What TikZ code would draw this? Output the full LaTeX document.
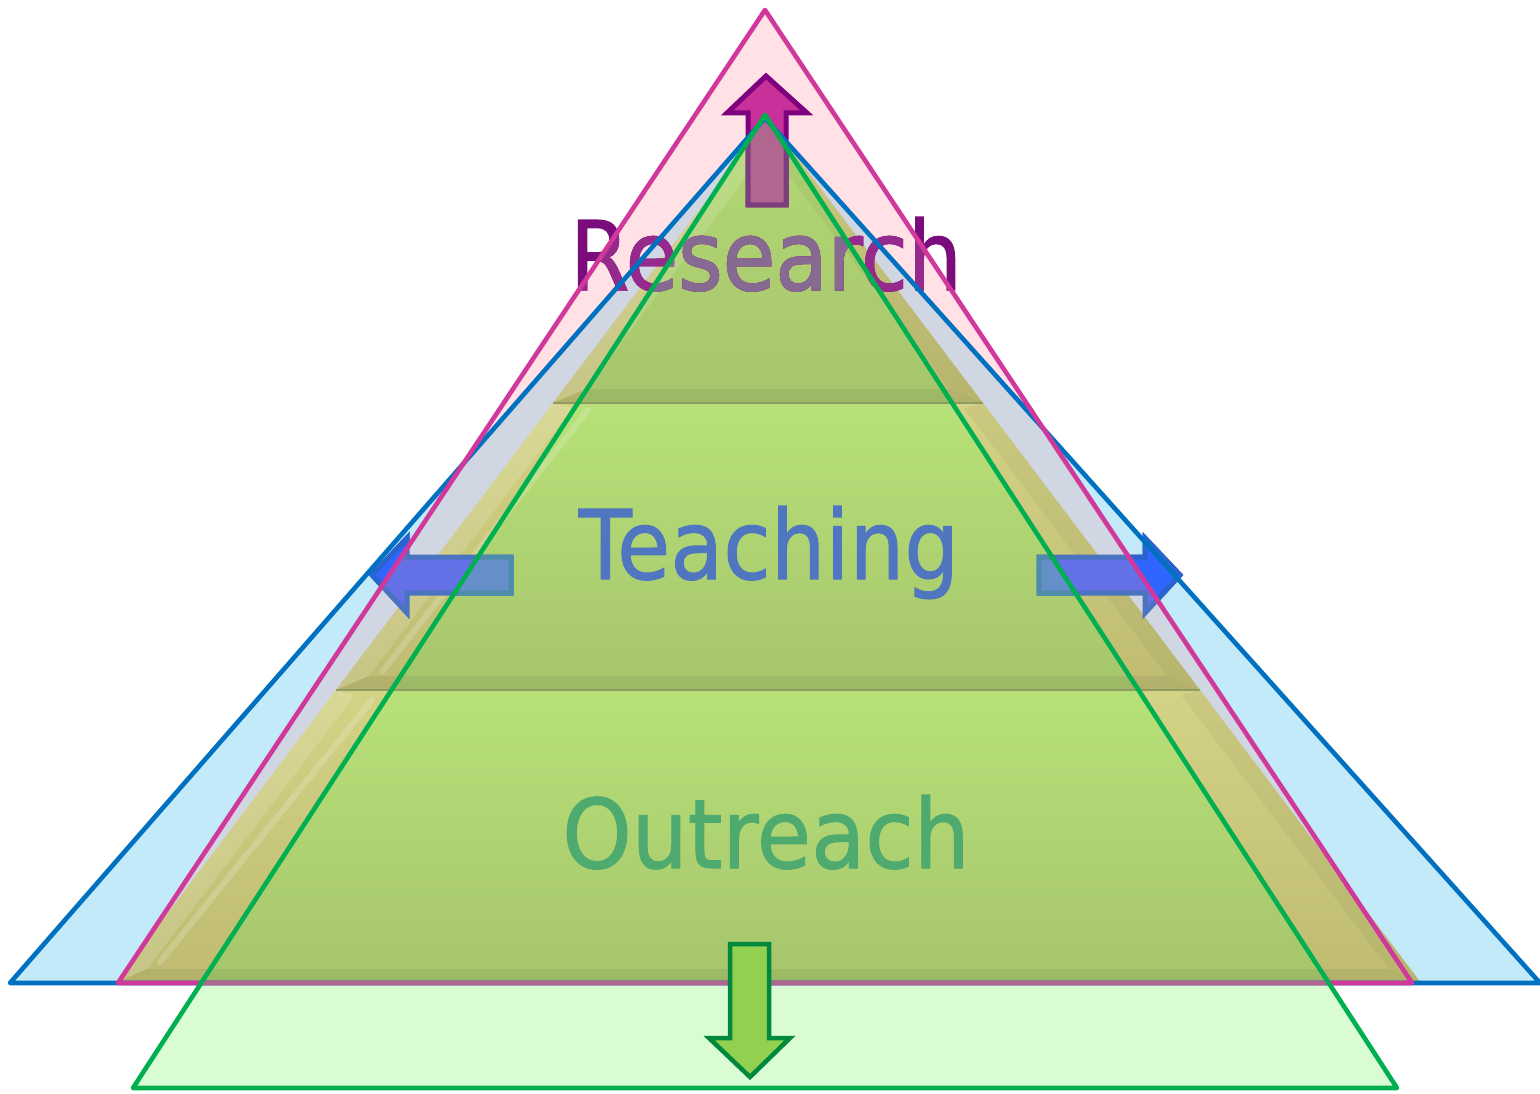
\documentclass[tikz,border=0pt]{standalone}
\usepackage{fontspec}
\setmainfont{DejaVu Sans}
\newfontfamily\wordfont{DejaVu Sans}[FakeBold=1.2]
\definecolor{pinkfill}{HTML}{FFE1E6}
\definecolor{bluefill}{HTML}{C3EAF8}
\definecolor{grayfill}{HTML}{D0D6E2}
\definecolor{khakiT}{HTML}{D3D285}
\definecolor{khakiB}{HTML}{BFBC72}
\definecolor{greenT}{HTML}{B7E178}
\definecolor{greenB}{HTML}{A6C56C}
\definecolor{lightgreen}{HTML}{DAFCD5}
\definecolor{pinkline}{HTML}{D1389C}
\definecolor{blueline}{HTML}{0070C0}
\definecolor{greenline}{HTML}{00B050}
\definecolor{mauve}{HTML}{B0668F}
\definecolor{sepline}{HTML}{8E9C62}
\definecolor{resOut}{HTML}{7B0C7C}
\definecolor{resMid}{HTML}{962A8C}
\definecolor{resIn}{HTML}{866A92}
\definecolor{teachcol}{HTML}{5076C0}
\definecolor{outcol}{HTML}{4EAA6E}
\definecolor{topFill}{HTML}{C8309A}
\definecolor{topStroke}{HTML}{7F007F}
\definecolor{topFillG}{HTML}{B0668F}
\definecolor{topStrokeG}{HTML}{7D3E80}
\definecolor{bArrFill}{HTML}{6470E6}
\definecolor{bArrStroke}{HTML}{4A74C0}
\definecolor{bArrFillOut}{HTML}{2F66FF}
\definecolor{bArrStrokeOut}{HTML}{2A62D0}
\definecolor{bArrFillG}{HTML}{658FC8}
\definecolor{bArrStrokeG}{HTML}{4E8CAC}
\definecolor{gArrFill}{HTML}{92D050}
\definecolor{gArrStroke}{HTML}{00883C}
\newcommand{\wordRes}{\scalebox{0.89}[1]{Research}}
\newcommand{\wordTea}{\scalebox{0.9}[1]{Teaching}}
\newcommand{\wordOut}{\scalebox{0.92}[1]{Outreach}}
\newcommand{\topArrowPath}{(766,76) -- (807,113) -- (786,113) -- (786,205) -- (748,205) -- (748,113) -- (727,113) -- cycle}
\newcommand{\leftArrowPath}{(372,575) -- (407,538) -- (407,557) -- (511,557) -- (511,593) -- (407,593) -- (407,613) -- cycle}
\newcommand{\rightArrowPath}{(1180,575) -- (1145,538) -- (1145,557) -- (1039,557) -- (1039,593) -- (1145,593) -- (1145,613) -- cycle}
\newcommand{\downArrowPath}{(730,944) -- (769,944) -- (769,1038) -- (790,1038) -- (750,1077) -- (709,1038) -- (730,1038) -- cycle}
\begin{document}
\begin{tikzpicture}[x=1pt,y=-1pt]
\tikzset{
  triline/.style={line width=4.6pt, line join=round},
  word/.style={anchor=base, inner sep=0pt, font=\wordfont\fontsize{96}{110}\selectfont},
  arrowline/.style={line width=5pt, line join=miter},
}
\useasboundingbox (0,0) rectangle (1540,1094);
% triangle corners
\coordinate (P1) at (765,10);   \coordinate (P2) at (118,983);  \coordinate (P3) at (1412,983);
\coordinate (B1) at (765,118);  \coordinate (B2) at (10,983);   \coordinate (B3) at (1540,983);
\coordinate (G1) at (765,115);  \coordinate (G2) at (133,1088); \coordinate (G3) at (1397,1088);
% pyramid corners
\coordinate (A) at (768,119);
\coordinate (L1) at (553,403); \coordinate (R1) at (983,403);
\coordinate (L2) at (336,690); \coordinate (R2) at (1200,690);
\coordinate (L3) at (115,983); \coordinate (R3) at (1421,983);

% background triangles
\fill[pinkfill] (P1) -- (P2) -- (P3) -- cycle;
\fill[bluefill] (B1) -- (B2) -- (B3) -- cycle;
\begin{scope}
  \clip (P1) -- (P2) -- (P3) -- cycle;
  \fill[grayfill] (B1) -- (B2) -- (B3) -- cycle;
\end{scope}

% pyramid, khaki
\shade[top color=khakiT, bottom color=khakiB] (A) -- (R1) -- (L1) -- cycle;
\shade[top color=khakiT, bottom color=khakiB] (L1) -- (R1) -- (R2) -- (L2) -- cycle;
\shade[top color=khakiT, bottom color=khakiB] (L2) -- (R2) -- (R3) -- (L3) -- cycle;
% pyramid, green part
\begin{scope}
  \clip (G1) -- (G2) -- (G3) -- cycle;
  \shade[top color=greenT!70!greenB, bottom color=greenB] (A) -- (R1) -- (L1) -- cycle;
  \shade[top color=greenT, bottom color=greenB] (L1) -- (R1) -- (R2) -- (L2) -- cycle;
  \shade[top color=greenT, bottom color=greenB] (L2) -- (R2) -- (R3) -- (L3) -- cycle;
  \fill[lightgreen] (0,983) rectangle (1540,1094);
\end{scope}
% bevels
\fill[white, opacity=0.14] (A) -- (768,148) -- (586,389) -- (L1) -- cycle;
\fill[black, opacity=0.04] (A) -- (768,148) -- (950,389) -- (R1) -- cycle;
\fill[black, opacity=0.06] (L1) -- (586,389) -- (950,389) -- (R1) -- cycle;
\fill[white, opacity=0.14] (L1) -- (572,408) -- (369,676) -- (L2) -- cycle;
\fill[black, opacity=0.04] (R1) -- (964,408) -- (1167,676) -- (R2) -- cycle;
\fill[black, opacity=0.06] (L2) -- (369,676) -- (1167,676) -- (R2) -- cycle;
\fill[white, opacity=0.14] (L2) -- (355,695) -- (147,969) -- (L3) -- cycle;
\fill[black, opacity=0.04] (R2) -- (1181,695) -- (1389,969) -- (R3) -- cycle;
\fill[black, opacity=0.06] (L3) -- (147,969) -- (1389,969) -- (R3) -- cycle;
\draw[white, opacity=0.18, line width=6pt, line cap=round] (588,410) -- (382,672);
\draw[white, opacity=0.18, line width=6pt, line cap=round] (372,700) -- (160,962);
\draw[sepline, line width=2.5pt] (L1) -- (R1);
\draw[sepline, line width=2.5pt] (L2) -- (R2);

% texts
\node[word, text=resOut] (research) at (766,290) {\wordRes};
\begin{scope}
  \clip (P1) -- (P2) -- (P3) -- cycle;
  \node[word, text=resMid] (research-p) at (766,290) {\wordRes};
\end{scope}
\begin{scope}
  \clip (G1) -- (G2) -- (G3) -- cycle;
  \node[word, text=resIn] (research-g) at (766,290) {\wordRes};
\end{scope}
\node[word, text=teachcol] (teaching) at (769,579) {\wordTea};
\node[word, text=outcol] (outreach) at (766,868) {\wordOut};

% top arrow
\draw[arrowline, draw=topStroke, fill=topFill] \topArrowPath;
\begin{scope}
  \clip (G1) -- (G2) -- (G3) -- cycle;
  \draw[arrowline, draw=topStrokeG, fill=topFillG] \topArrowPath;
\end{scope}
% side arrows
\draw[arrowline, draw=bArrStroke, fill=bArrFill] \leftArrowPath;
\draw[arrowline, draw=bArrStroke, fill=bArrFill] \rightArrowPath;
\begin{scope}
  \clip (P1) -- (P2) -- (-50,983) -- (-50,10) -- cycle;
  \draw[arrowline, draw=bArrStrokeOut, fill=bArrFillOut] \leftArrowPath;
\end{scope}
\begin{scope}
  \clip (P1) -- (P3) -- (1600,983) -- (1600,10) -- cycle;
  \draw[arrowline, draw=bArrStrokeOut, fill=bArrFillOut] \rightArrowPath;
\end{scope}
\begin{scope}
  \clip (G1) -- (G2) -- (G3) -- cycle;
  \draw[arrowline, draw=bArrStrokeG, fill=bArrFillG] \leftArrowPath;
  \draw[arrowline, draw=bArrStrokeG, fill=bArrFillG] \rightArrowPath;
\end{scope}

% outlines
\draw[triline, blueline] (B1) -- (B2) -- (B3) -- cycle;
\draw[triline, pinkline] (P1) -- (P2) -- (P3) -- cycle;
\begin{scope}
  \clip (G1) -- (G2) -- (G3) -- cycle;
  \draw[triline, mauve] (P2) -- (P3);
\end{scope}
\draw[triline, greenline] (G1) -- (G2) -- (G3) -- cycle;

% bottom arrow
\draw[arrowline, line width=4.5pt, draw=gArrStroke, fill=gArrFill] \downArrowPath;
\end{tikzpicture}
\end{document}
